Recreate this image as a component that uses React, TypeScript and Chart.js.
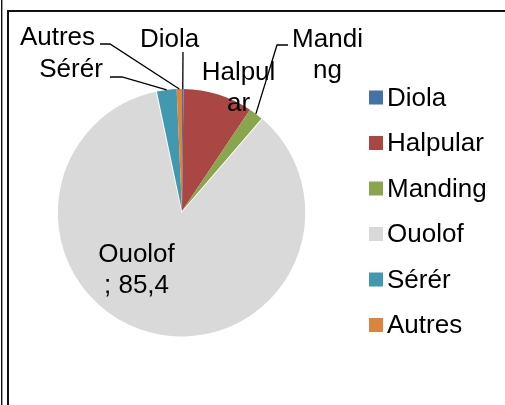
import React, { useEffect, useRef } from "react";
import { Chart, registerables } from "chart.js";

Chart.register(...registerables);

// ---- data ----
const categories: string[] = ["Diola", "Halpular", "Manding", "Ouolof", "Sérér", "Autres"];
const shares: number[] = [0.2, 9.2, 1.9, 85.4, 2.6, 0.7];
const sliceColors: string[] = ["#4572A7", "#AA4643", "#89A54E", "#D9D9D9", "#4198AF", "#DB843D"];
const explode: number[] = [0, 0, 0, 7, 0, 0];
// wrapped label lines as shown on the chart (value only shown for Ouolof)
const labelLines: string[][] = [
  ["Diola"],
  ["Halpul", "ar"],
  ["Mandi", "ng"],
  ["Ouolof", "; " + String(shares[3]).replace(".", ",")],
  ["Sérér"],
  ["Autres"],
];

const FONT = '26px "Liberation Sans", Arial, Helvetica, sans-serif';

// label placement (text centre x, first baseline y, optional leader start points)
type LabelLayout = { cx: number; by: number; leader?: [number, number][] };
const labelLayout: LabelLayout[] = [
  { cx: 169.5, by: 47, leader: [[183, 52]] },
  { cx: 238.5, by: 80 },
  { cx: 327.5, by: 47, leader: [[288, 45], [277, 45]] },
  { cx: 136.5, by: 262 },
  { cx: 71, by: 77, leader: [[110, 77], [122, 77]] },
  { cx: 57.5, by: 45, leader: [[100, 44], [110, 44]] },
];

const framePlugin = {
  id: "frame",
  beforeDraw(chart: any) {
    const ctx = chart.ctx as CanvasRenderingContext2D;
    ctx.save();
    ctx.fillStyle = "#ffffff";
    ctx.fillRect(0, 0, chart.width, chart.height);
    ctx.fillStyle = "#111111";
    ctx.fillRect(1, 0, 1.4, chart.height);
    ctx.fillRect(7, 10, 2, chart.height - 10);
    ctx.fillRect(7, 10, chart.width - 7, 2);
    ctx.restore();
  },
};

const labelPlugin = {
  id: "sliceLabels",
  afterDatasetsDraw(chart: any) {
    const ctx = chart.ctx as CanvasRenderingContext2D;
    const meta = chart.getDatasetMeta(0);
    ctx.save();
    ctx.font = FONT;
    ctx.fillStyle = "#000000";
    ctx.textAlign = "center";
    ctx.textBaseline = "alphabetic";
    meta.data.forEach((arc: any, i: number) => {
      const lay = labelLayout[i];
      const lines = labelLines[i];
      lines.forEach((t, k) => ctx.fillText(t, lay.cx, lay.by + k * 30.5));
      if (lay.leader) {
        const mid = (arc.startAngle + arc.endAngle) / 2;
        const ex = arc.x + Math.cos(mid) * arc.outerRadius;
        const ey = arc.y + Math.sin(mid) * arc.outerRadius;
        ctx.beginPath();
        ctx.strokeStyle = "#000000";
        ctx.lineWidth = 1.3;
        ctx.moveTo(lay.leader[0][0], lay.leader[0][1]);
        for (let p = 1; p < lay.leader.length; p++) ctx.lineTo(lay.leader[p][0], lay.leader[p][1]);
        ctx.lineTo(ex, ey);
        ctx.stroke();
      }
    });
    ctx.restore();
  },
};

const legendPlugin = {
  id: "sideLegend",
  afterDraw(chart: any) {
    const ctx = chart.ctx as CanvasRenderingContext2D;
    const labels: string[] = chart.data.labels;
    const colors: string[] = chart.data.datasets[0].backgroundColor;
    ctx.save();
    ctx.font = FONT;
    ctx.textAlign = "left";
    ctx.textBaseline = "alphabetic";
    labels.forEach((lab, i) => {
      const cy = 97.5 + i * 45.5;
      ctx.fillStyle = colors[i];
      ctx.fillRect(369, cy - 7, 14, 14);
      ctx.fillStyle = "#000000";
      ctx.fillText(lab, 387, cy + 8);
    });
    ctx.restore();
  },
};

export default function App() {
  const ref = useRef<HTMLCanvasElement | null>(null);
  useEffect(() => {
    if (!ref.current) return;
    const chart = new Chart(ref.current, {
      type: "pie",
      data: {
        labels: categories,
        datasets: [
          {
            data: shares,
            backgroundColor: sliceColors,
            borderWidth: 0,
            offset: explode,
            radius: 122,
          } as any,
        ],
      },
      options: {
        responsive: false,
        animation: false,
        layout: { padding: { left: 40, right: 181, top: 61, bottom: 44 } },
        plugins: {
          legend: { display: false },
          tooltip: { enabled: false },
        },
      },
      plugins: [framePlugin, labelPlugin, legendPlugin],
    });
    return () => chart.destroy();
  }, []);
  return (
    <canvas
      ref={ref}
      width={505}
      height={405}
      style={{ position: "absolute", left: 0, top: 0, width: 505, height: 405, display: "block" }}
    />
  );
}
